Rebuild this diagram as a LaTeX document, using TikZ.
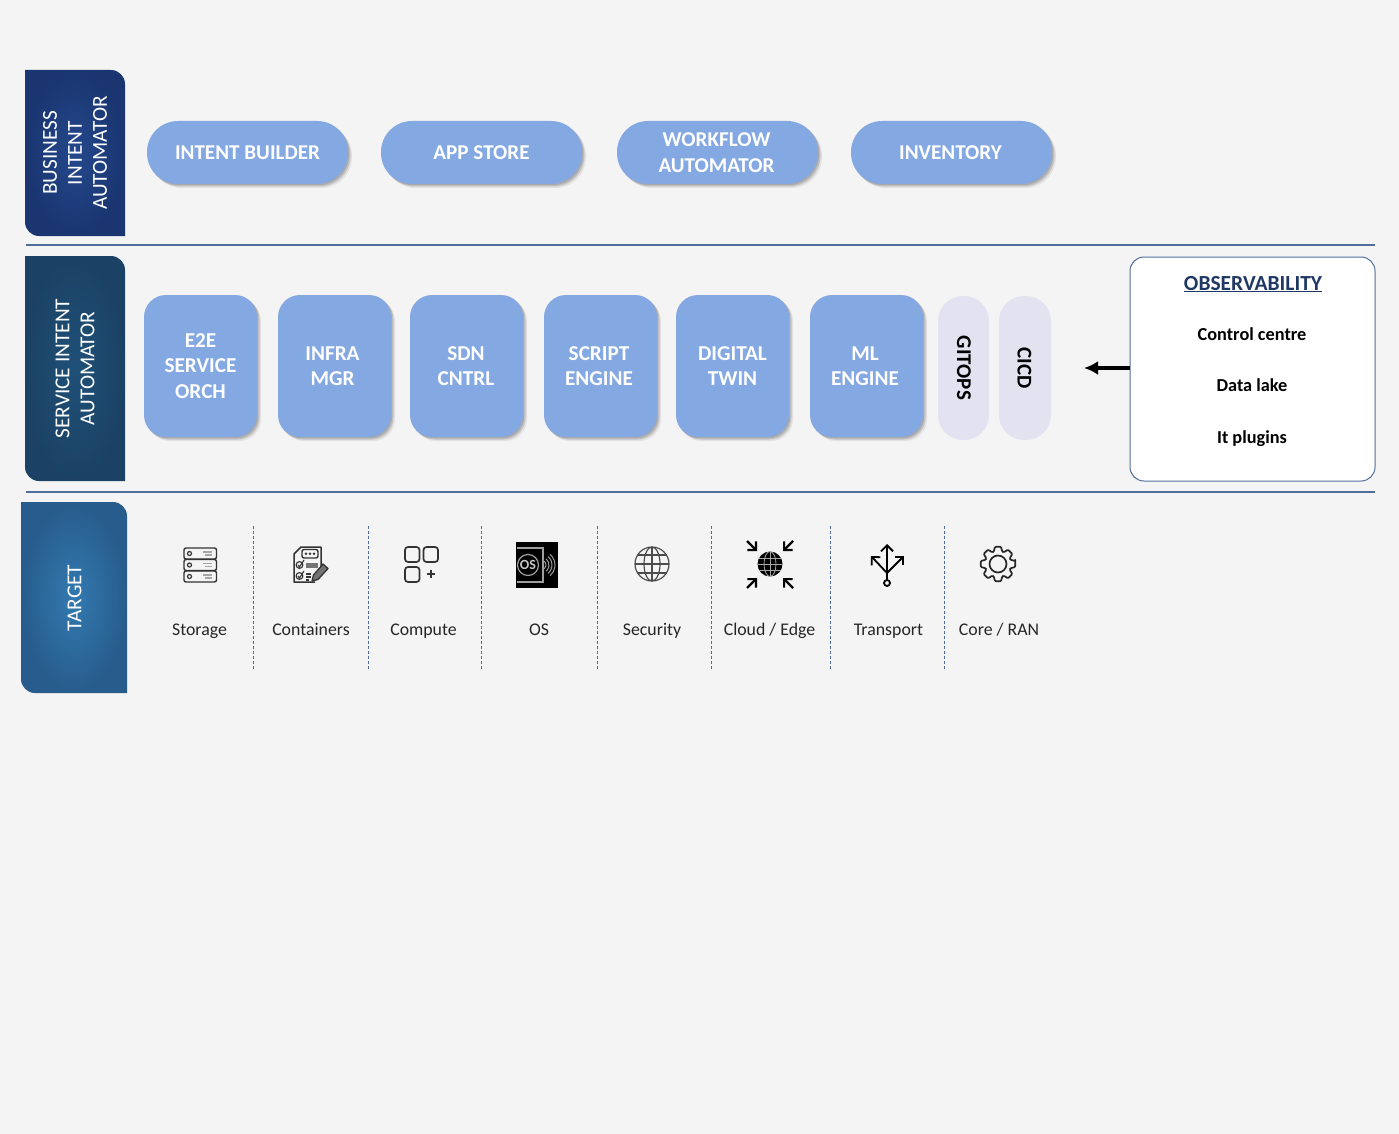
\documentclass[tikz,border=0pt]{standalone}
\usepackage{fontspec}
\setmainfont{Carlito}
\usetikzlibrary{shadows,arrows.meta,shapes.misc}
\definecolor{bgc}{HTML}{F4F4F4}
\definecolor{pill}{HTML}{84A8E2}
\definecolor{lav}{HTML}{E2E2F1}
\definecolor{rulec}{HTML}{4F6E9C}
\definecolor{txt}{HTML}{262626}
\definecolor{navy}{HTML}{1F3864}
\definecolor{tA}{HTML}{24488C}\definecolor{tB}{HTML}{1A3570}
\definecolor{tC}{HTML}{1F5078}\definecolor{tD}{HTML}{1B4264}
\definecolor{tE}{HTML}{337AB0}\definecolor{tF}{HTML}{275C8C}
\newcommand{\cs}{\rule[-6pt]{0pt}{25.5pt}}
\newcommand{\nudge}[1]{\kern#1pt}
\tikzset{
  softshadow/.style={
    general shadow={shadow xshift=1.2pt,shadow yshift=-1.2pt,fill=black!55,fill opacity=.30},
    general shadow={shadow xshift=2.5pt,shadow yshift=-2.5pt,fill=black!55,fill opacity=.30},
    general shadow={shadow xshift=4pt,shadow yshift=-4pt,fill=black!45,fill opacity=.18}},
  pillbox/.style={softshadow,fill=pill,rounded corners=31pt,minimum width=201pt,minimum height=63pt,inner sep=0pt,
    text=white,font=\fontsize{21.1}{25.5}\selectfont\bfseries,align=center},
  svcbox/.style={softshadow,fill=pill,rounded corners=22pt,minimum width=113pt,minimum height=142pt,inner sep=0pt,
    text=white,font=\fontsize{21.2}{25.5}\selectfont\bfseries,align=center},
  tablabel/.style={text=white,font=\fontsize{21.3}{25}\selectfont,rotate=90,align=center,inner sep=0pt},
  sidelabel/.style={text=black,font=\fontsize{21}{24}\selectfont\bfseries,rotate=-90,inner sep=0pt},
  obsitem/.style={text=black,font=\fontsize{18.3}{20}\selectfont\bfseries,inner sep=0pt,anchor=base},
  iconlabel/.style={text=txt,font=\fontsize{17.8}{21}\selectfont,inner sep=0pt,anchor=base},
  sep/.style={rulec,densely dashed,line width=.9pt},
  hrule/.style={rulec,line width=1.2pt},
  ic/.style={draw=black!80,line width=1.4pt},
  ick/.style={draw=black,line width=2.2pt,line cap=butt}
}
\begin{document}
\begin{tikzpicture}[x=1pt,y=-1pt]
\useasboundingbox (0,0) rectangle (1399,1134);
\fill[bgc] (0,0) rectangle (1399,1134);
% tabs
\shade[inner color=tA,outer color=tB]
  (25,70) -- (111,70) .. controls (118.7,70) and (125,76.3) .. (125,84) -- (125,236) -- (39,236) .. controls (31.3,236) and (25,229.7) .. (25,222) -- cycle;
\shade[inner color=tC,outer color=tD]
  (25,256) -- (111,256) .. controls (118.7,256) and (125,262.3) .. (125,270) -- (125,481) -- (39,481) .. controls (31.3,481) and (25,474.7) .. (25,467) -- cycle;
\shade[inner color=tE,outer color=tF]
  (21,502) -- (113,502) .. controls (120.7,502) and (127,508.3) .. (127,516) -- (127,693) -- (35,693) .. controls (27.3,693) and (21,686.7) .. (21,679) -- cycle;
\node[tablabel] (biz) at (75,153) {BUSINESS\\INTENT\\AUTOMATOR};
\node[tablabel] (svc) at (75,368.5) {SERVICE INTENT\\AUTOMATOR};
\node[tablabel] (tgt) at (74.5,598) {TARGET};
% rules
\draw[hrule] (26,245) -- (1375,245);
\draw[hrule] (26,492) -- (1375,492);
% pills
\node[pillbox] (p1) at (247.5,152.5) {\cs INTENT BUILDER};
\node[pillbox] (p2) at (481.5,152.5) {\cs APP STORE};
\node[pillbox] (p3) at (717.5,152.5) {\cs WORKFLOW\nudge{2}\\\cs AUTOMATOR\nudge{2}};
\node[pillbox] (p4) at (951.5,152.5) {\cs INVENTORY\nudge{2}};
% service boxes
\node[svcbox] (s1) at (200.5,366) {\cs E2E\\\cs SERVICE\\\cs ORCH};
\node[svcbox] (s2) at (334.5,366) {\cs INFRA\nudge{4}\\\cs MGR\nudge{4}};
\node[svcbox] (s3) at (466.5,366) {\cs SDN\nudge{1}\\\cs CNTRL\nudge{1}};
\node[svcbox] (s4) at (600.5,366) {\cs SCRIPT\nudge{3}\\\cs ENGINE\nudge{3}};
\node[svcbox] (s5) at (732.5,366) {\cs DIGITAL\\\cs TWIN};
\node[svcbox] (s6) at (866.5,366) {\cs ML\nudge{3}\\\cs ENGINE\nudge{3}};
\path[fill=lav,rounded corners=25pt] (938,296) rectangle (989,440);
\path[fill=lav,rounded corners=25pt] (999,296) rectangle (1051,440);
\node[sidelabel] (git) at (964,368) {GITOPS};
\node[sidelabel] (cicd) at (1024.5,368) {CICD};
% observability
\node[draw=rulec,fill=white,line width=1pt,rounded corners=14pt,minimum width=245pt,minimum height=224pt,inner sep=0pt] (obs) at (1252.5,369) {};
\node[text=navy,font=\fontsize{21.5}{25}\selectfont\bfseries,inner sep=0pt,anchor=base] (obst) at (1253,290) {\underline{OBSERVABILITY}};
\node[obsitem] (o1) at (1252,340) {Control centre};
\node[obsitem] (o2) at (1252,391) {Data lake};
\node[obsitem] (o3) at (1252,443) {It plugins};
\coordinate (arrowend) at (1084,368);
\draw[black,line width=3.4pt,-{Latex[length=14pt,width=14pt]}] (obs.west |- arrowend) -- (arrowend);
% separators
\foreach \x in {253.5,368,481,597,711,830,944} \draw[sep] (\x,526) -- (\x,670);
% icon labels
\node[iconlabel] (l1) at (199.5,635) {Storage};
\node[iconlabel] (l2) at (311,635) {Containers};
\node[iconlabel] (l3) at (423.5,635) {Compute};
\node[iconlabel] (l4) at (539,635) {OS};
\node[iconlabel] (l5) at (652,635) {Security};
\node[iconlabel] (l6) at (769.5,635) {Cloud / Edge};
\node[iconlabel] (l7) at (888.5,635) {Transport};
\node[iconlabel] (l8) at (999,635) {Core / RAN};
% storage icon
\foreach \y in {548,559.5,571} {
  \draw[ic,rounded corners=2pt] (184,\y) rectangle (216.5,\y+11);
  \draw[black!80,line width=1.2pt] (189.5,\y+5.5) circle[radius=2];
  \draw[black!35,line width=1.1pt] (203,\y+4) -- (212,\y+4) (205,\y+7) -- (212,\y+7);
}
% containers icon
\draw[ic,line join=round,line width=1.5pt] (321,566) -- (321,547) -- (301,547) -- (294,554) -- (294,582) -- (315,582);
\draw[ic,rounded corners=2pt,fill=bgc] (302,549.5) rectangle (318,558);
\fill[black!80] (306,553.7) circle[radius=1.4] (310,553.7) circle[radius=1.4] (314,553.7) circle[radius=1.4];
\draw[black!80,line width=1.1pt] (299.5,565) circle[radius=3.4] (299.5,576) circle[radius=3.4];
\draw[black!80,line width=1.1pt] (298,565) -- (299.5,567) -- (304,560) (298,576) -- (299.5,578) -- (304,571);
\fill[black!55] (306,563) rectangle (318,568);
\draw[black!80,line width=1.1pt] (306,574) -- (311,574) (306,577) -- (311,577) (306,580) -- (309,580);
\draw[black!80,fill=black!55,line width=1.3pt,line join=round] (312,581) -- (313.5,575) -- (323,564) -- (328,568.5) -- (318,579.5) -- cycle;
% compute icon
\draw[ic,rounded corners=3pt,line width=1.7pt] (405,547) rectangle (419.5,562);
\draw[ic,rounded corners=3pt,line width=1.7pt] (423.5,547) rectangle (438,562);
\draw[ic,rounded corners=3pt,line width=1.7pt] (405,567) rectangle (419.5,582);
\draw[black!80,line width=1.6pt] (427,574) -- (435,574) (431,570) -- (431,578);
% OS icon
\fill[black] (515.5,542) rectangle (558,588);
\draw[black!38,line width=1.2pt] (517,548) -- (543,548) -- (543,582) -- (517,582);
\draw[black!38,line width=1.2pt] (528,565) circle[radius=10.5];
\node[text=black!22,font=\fontsize{14}{14}\selectfont\bfseries,inner sep=0pt] (osm) at (528,565) {OS};
\foreach \r in {5,8,11,14} \draw[black!38,line width=1pt] ([shift={(-50:\r)}]541,565) arc[start angle=-50,end angle=50,radius=\r];
% security icon
\begin{scope}[black!70,line width=1.2pt]
\draw (652,564) circle[radius=17];
\draw (652,564) ellipse[x radius=8,y radius=17];
\draw (652,547) -- (652,581) (635,564) -- (669,564) (637.5,555) -- (666.5,555) (637.5,573) -- (666.5,573);
\end{scope}
% cloud icon
\fill[black] (770,564) circle[radius=12.5];
\draw[black!35,line width=.8pt] (770,551.5) -- (770,576.5) (757.5,564) -- (782.5,564) (759,558) -- (781,558) (759,570) -- (781,570);
\draw[black!35,line width=.8pt] (770,564) ellipse[x radius=6,y radius=12.5];
\foreach \a/\b/\c/\d in {747/541/757/551, 793/541/783/551, 747/588/757/578, 793/588/783/578}
  \draw[ick,-{Straight Barb[length=6pt,width=11pt,angle'=90]}] (\a,\b) -- (\c,\d);
% transport icon
\draw[black,line width=1.8pt] (887,583) circle[radius=3];
\draw[black,line width=1.8pt,-{Straight Barb[length=6pt,width=12pt]}] (887,580) -- (887,544);
\draw[black,line width=1.8pt,-{Straight Barb[length=6pt,width=12pt]}] (887,573) -- (871,556);
\draw[black,line width=1.8pt,-{Straight Barb[length=6pt,width=12pt]}] (887,573) -- (904,556);
% gear icon
\draw[black!85,line width=1.7pt] (998,564) circle[radius=8.5];
\draw[black!85,line width=1.7pt,line join=round,rounded corners=1pt]
  ({998+17.5*cos(-10)},{564+17.5*sin(-10)})
  \foreach \k in {0,...,7} {
    -- ({998+17.5*cos(45*\k-10)},{564+17.5*sin(45*\k-10)})
    -- ({998+17.5*cos(45*\k+10)},{564+17.5*sin(45*\k+10)})
    -- ({998+13*cos(45*\k+19)},{564+13*sin(45*\k+19)})
    -- ({998+13*cos(45*\k+26)},{564+13*sin(45*\k+26)})
  } -- cycle;
\end{tikzpicture}
\end{document}
